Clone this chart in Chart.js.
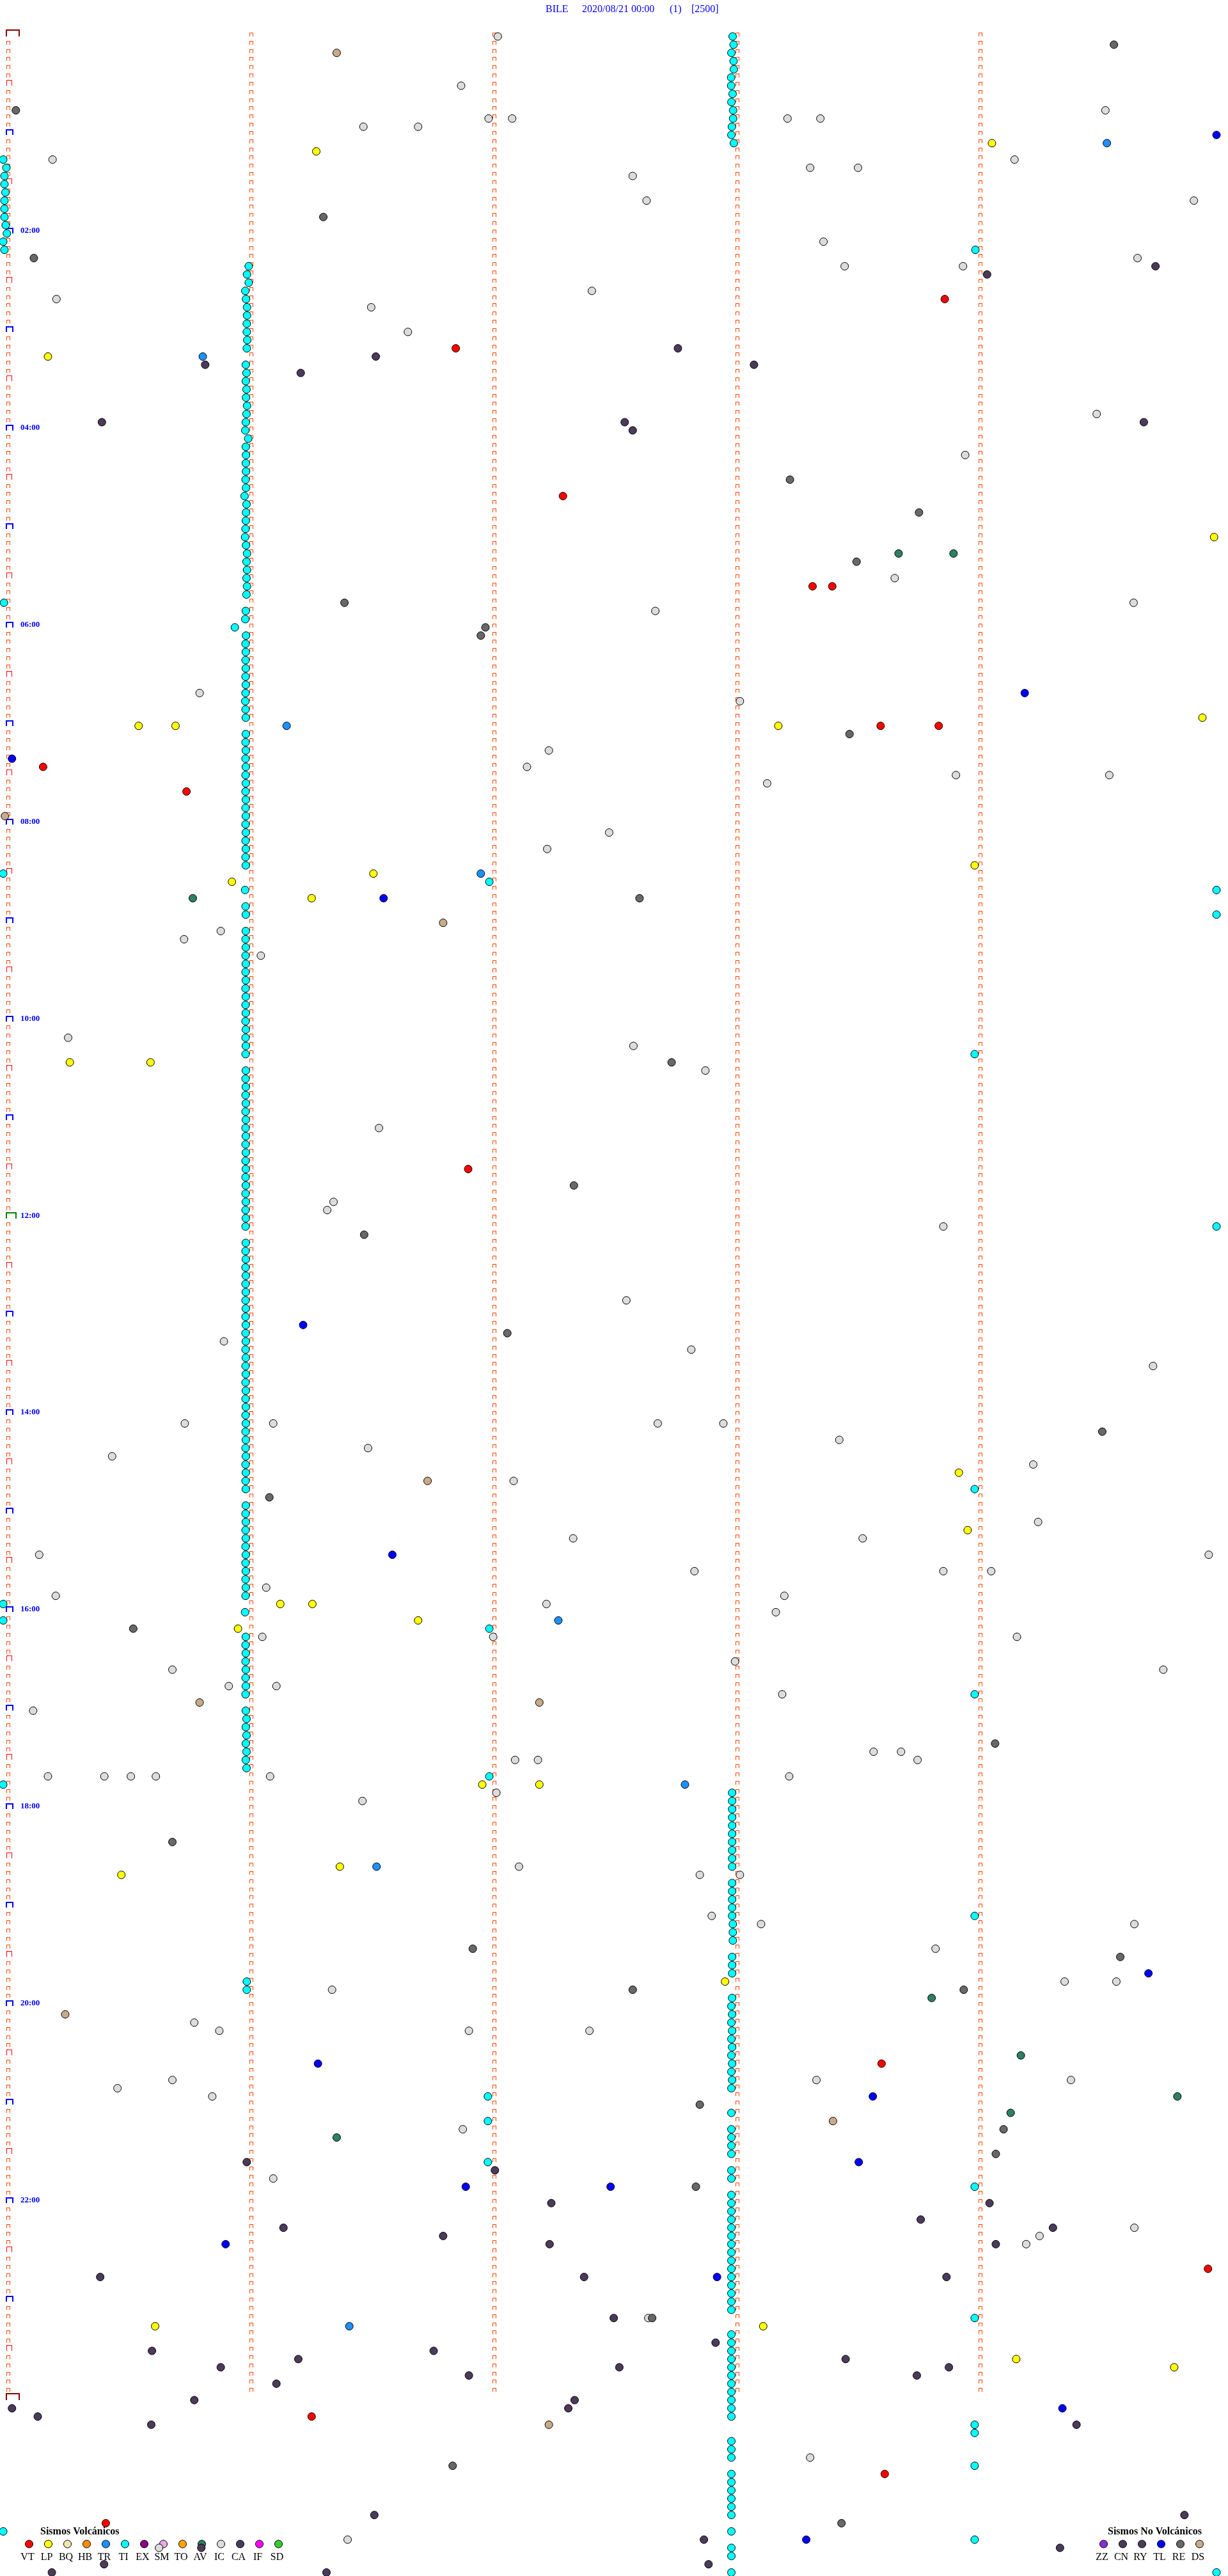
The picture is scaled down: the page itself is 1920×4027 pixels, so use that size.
<!DOCTYPE html>
<html>
<head>
<meta charset="utf-8">
<title>BILE 2020/08/21</title>
<script src="https://cdn.jsdelivr.net/npm/chart.js@4.4.0/dist/chart.umd.min.js"></script>
<style>
  html, body { margin: 0; padding: 0; background: #fff; }
  canvas { display: block; }
</style>
</head>
<body>
<canvas id="drum" width="1920" height="4027"></canvas>
<script>
// Drum record BILE 2020/08/21: one trace line = 5 minutes, 288 lines per day.
// Every event is [line, minute into the line].
const titleParts = ["BILE", "2020/08/21 00:00", "(1)", "[2500]"];
const hourLabels = ["02:00", "04:00", "06:00", "08:00", "10:00", "12:00", "14:00", "16:00", "18:00", "20:00", "22:00"];

const volcanicCodes = ["VT", "LP", "BQ", "HB", "TR", "TI", "EX", "SM", "TO", "AV", "IC", "CA", "IF", "SD"];
const volcanicColors = ["#ff0000", "#ffff00", "#eee8aa", "#ff8c00", "#1e90ff", "#00ffff", "#8b008b", "#e8a8e8", "#ffa500", "#2e8060", "#dcdcdc", "#4b3a5a", "#ff00ff", "#32cd32"];
const tectonicCodes = ["ZZ", "CN", "RY", "TL", "RE", "DS"];
const tectonicColors = ["#8a2be2", "#4b3a5a", "#4b3a5a", "#0000ff", "#686868", "#c8aa88"];

const vtEvents = [[32, 3.861], [38, 1.849], [56, 2.29], [67, 3.317], [67, 3.398], [84, 3.597], [84, 3.836], [89, 0.151],
  [92, 0.741], [138, 1.9], [247, 3.601], [272, 4.944], [290, 1.256], [297, 3.614], [303, 0.409]];

const lpEvents = [[13, 4.055], [14, 1.275], [39, 0.171], [61, 4.969], [83, 4.921], [84, 0.544], [84, 0.696], [84, 3.176],
  [101, 3.984], [102, 1.51], [103, 0.928], [105, 1.256], [125, 0.261], [125, 0.593], [175, 3.919], [182, 3.955],
  [191, 1.127], [191, 1.259], [193, 1.694], [194, 0.953], [213, 1.958], [213, 2.193], [223, 1.372], [224, 0.473],
  [237, 2.957], [279, 0.612], [279, 3.114], [283, 4.155], [284, 4.805]];

const trEvents = [[13, 4.528], [39, 0.808], [84, 1.153], [102, 1.952], [193, 2.271], [213, 2.792], [223, 1.523], [279, 1.411]];

const tiEvents = [
  // start of line
  [15, -0.013], [16, 0.0], [17, -0.008], [18, -0.008], [19, -0.004], [20, -0.008], [21, -0.008], [22, -0.008],
  [23, -0.003], [24, 0.002], [25, -0.013], [26, -0.008], [69, -0.01], [102, -0.013], [191, -0.013], [193, -0.013],
  [213, -0.013], [304, -0.013],
  // first minute mark
  [28, 0.997], [29, 0.99], [30, 0.997], [31, 0.983], [32, 0.986], [33, 0.99], [34, 0.99], [35, 0.989], [36, 0.989],
  [37, 0.991], [38, 0.989],
  [40, 0.985], [41, 0.988], [42, 0.985], [43, 0.988], [44, 0.986], [45, 0.99], [46, 0.988], [47, 0.985], [48, 0.983],
  [49, 0.995], [50, 0.985], [51, 0.986], [52, 0.985], [53, 0.986], [54, 0.984], [55, 0.986], [56, 0.98], [57, 0.988],
  [58, 0.986], [59, 0.985], [60, 0.984], [61, 0.982], [62, 0.986], [63, 0.99], [64, 0.988], [65, 0.99], [66, 0.988],
  [67, 0.99], [68, 0.988],
  [70, 0.985], [71, 0.983], [72, 0.94], [73, 0.986], [74, 0.984], [75, 0.985], [76, 0.984], [77, 0.985], [78, 0.984],
  [79, 0.985], [80, 0.984], [81, 0.983], [82, 0.984], [83, 0.985],
  [85, 0.985], [86, 0.984], [87, 0.985], [88, 0.984], [89, 0.985], [90, 0.984], [91, 0.985], [92, 0.984], [93, 0.985],
  [94, 0.984], [95, 0.985], [96, 0.984], [97, 0.985], [98, 0.984], [99, 0.985], [100, 0.984], [101, 0.985],
  [104, 0.982], [106, 0.984], [107, 0.985],
  [109, 0.985], [110, 0.984], [111, 0.985], [112, 0.984], [113, 0.985], [114, 0.984], [115, 0.985], [116, 0.984],
  [117, 0.985], [118, 0.984], [119, 0.985], [120, 0.984], [121, 0.985], [122, 0.984], [123, 0.985], [124, 0.984],
  [126, 0.985], [127, 0.984], [128, 0.985], [129, 0.984], [130, 0.985], [131, 0.984], [132, 0.985], [133, 0.984],
  [134, 0.985], [135, 0.984], [136, 0.985], [137, 0.984], [138, 0.985], [139, 0.984], [140, 0.985], [141, 0.984],
  [142, 0.985], [143, 0.984], [144, 0.985], [145, 0.984],
  [147, 0.985], [148, 0.984], [149, 0.985], [150, 0.984], [151, 0.985], [152, 0.984], [153, 0.985], [154, 0.984],
  [155, 0.985], [156, 0.984], [157, 0.985], [158, 0.984], [159, 0.985], [160, 0.984], [161, 0.985], [162, 0.984],
  [163, 0.985], [164, 0.984], [165, 0.985], [166, 0.984], [167, 0.985], [168, 0.984], [169, 0.985], [170, 0.984],
  [171, 0.985], [172, 0.984], [173, 0.985], [174, 0.984], [175, 0.985], [176, 0.984], [177, 0.985],
  [179, 0.985], [180, 0.984], [181, 0.985], [182, 0.984], [183, 0.985], [184, 0.984], [185, 0.985], [186, 0.984],
  [187, 0.985], [188, 0.984], [189, 0.985], [190, 0.984], [192, 0.982],
  [195, 0.985], [196, 0.984], [197, 0.985], [198, 0.984], [199, 0.985], [200, 0.984], [201, 0.985], [202, 0.984],
  [204, 0.985], [205, 0.988], [206, 0.985], [207, 0.988], [208, 0.985], [209, 0.988], [210, 0.985], [211, 0.988],
  [237, 0.989], [238, 0.989],
  // second minute mark
  [103, 1.987], [194, 1.987], [212, 1.987], [251, 1.981], [254, 1.981], [259, 1.981],
  // third minute mark
  [0, 2.988], [1, 2.992], [2, 2.983], [3, 2.992], [4, 2.993], [5, 2.982], [6, 2.982], [7, 2.988], [8, 2.983],
  [9, 2.99], [10, 2.99], [11, 2.985], [12, 2.983], [13, 2.993],
  [214, 2.986], [215, 2.986], [216, 2.986], [217, 2.986], [218, 2.986], [219, 2.986], [220, 2.986], [221, 2.986],
  [222, 2.986], [223, 2.986], [225, 2.986], [226, 2.986], [227, 2.986], [228, 2.986], [229, 2.986],
  [230, 2.989], [231, 2.989], [232, 2.989], [234, 2.986], [235, 2.986], [236, 2.986],
  [239, 2.986], [240, 2.983], [241, 2.986], [242, 2.983], [243, 2.986], [244, 2.983], [245, 2.986], [246, 2.983],
  [247, 2.986], [248, 2.983], [249, 2.986], [250, 2.983], [253, 2.983],
  [255, 2.983], [256, 2.983], [257, 2.983], [258, 2.983], [260, 2.983], [261, 2.983],
  [263, 2.983], [264, 2.983], [265, 2.983], [266, 2.983], [267, 2.983], [268, 2.983], [269, 2.983], [270, 2.983],
  [271, 2.983], [272, 2.983], [273, 2.983], [274, 2.983], [275, 2.983], [276, 2.983], [277, 2.983],
  [280, 2.983], [281, 2.983], [282, 2.983], [283, 2.983], [284, 2.983], [285, 2.983], [286, 2.983], [287, 2.983],
  [288, 2.983], [289, 2.983], [290, 2.983],
  [293, 2.983], [294, 2.983], [295, 2.983], [297, 2.983], [298, 2.983], [299, 2.983], [300, 2.983], [301, 2.983],
  [302, 2.983], [304, 2.983], [306, 2.983], [307, 2.983], [309, 2.983],
  // fourth minute mark
  [26, 3.987], [124, 3.984], [177, 3.984], [202, 3.984], [229, 3.984], [262, 3.984], [278, 3.984], [291, 3.984],
  [292, 3.984], [296, 3.984], [305, 3.984],
  // end of line
  [104, 4.979], [107, 4.979], [145, 4.979], [309, 4.979]
];

const avEvents = [[63, 3.671], [63, 3.897], [105, 0.767], [239, 3.807], [246, 4.174], [251, 4.818], [253, 4.132], [256, 1.359]];

const icEvents = [[0, 2.022], [6, 1.871], [9, 4.522], [10, 1.984], [10, 2.081], [10, 3.214], [10, 3.349], [11, 1.469],
  [11, 1.694], [15, 0.19], [15, 4.148], [16, 3.307], [16, 3.504], [17, 2.577], [20, 2.634], [20, 4.886], [25, 3.362],
  [27, 4.654], [28, 3.449], [28, 3.936], [31, 2.409], [32, 0.206], [33, 1.501], [36, 1.652], [46, 4.486], [51, 3.945],
  [66, 3.655], [69, 4.638], [70, 2.67], [80, 0.795], [81, 3.018], [87, 2.232], [89, 2.142], [90, 3.907], [90, 4.538],
  [91, 3.13], [97, 2.48], [99, 2.225], [109, 0.882], [110, 0.731], [112, 1.047], [122, 0.254], [123, 2.58],
  [126, 2.876], [133, 1.533], [142, 1.346], [143, 1.32], [145, 3.855], [154, 2.551], [159, 0.895], [160, 2.818],
  [162, 4.718], [169, 0.734], [169, 1.098], [169, 2.68], [169, 2.95], [171, 3.427], [172, 1.488], [173, 0.435],
  [174, 4.225], [176, 2.087], [181, 4.245], [183, 2.332], [183, 3.523], [185, 0.135], [185, 4.947], [187, 2.831],
  [187, 3.855], [187, 4.052], [189, 1.069], [190, 0.203], [190, 3.201], [191, 2.222], [192, 3.166], [195, 1.053],
  [195, 2.003], [195, 4.158], [198, 2.998], [199, 0.683], [199, 4.76], [201, 0.915], [201, 1.111], [202, 3.192],
  [204, 0.11], [209, 3.568], [209, 3.681], [210, 2.093], [210, 2.187], [210, 3.749], [212, 0.171], [212, 0.403],
  [212, 0.512], [212, 0.615], [212, 1.085], [212, 3.221], [214, 2.016], [215, 1.465], [223, 2.109], [224, 2.853],
  [224, 3.018], [229, 2.902], [230, 3.105], [230, 4.641], [233, 3.823], [237, 4.354], [237, 4.567], [238, 1.34],
  [242, 0.773], [243, 0.876], [243, 1.903], [243, 2.399], [249, 0.683], [249, 3.333], [249, 4.38], [250, 0.457],
  [251, 0.847], [255, 1.878], [261, 1.098], [267, 4.641], [268, 4.251], [269, 4.196], [278, 2.641], [295, 3.307],
  [305, 1.404], [306, 0.628]];

const caEvents = [[28, 4.728], [29, 4.035], [38, 2.763], [39, 1.52], [40, 0.818], [40, 3.076], [41, 1.211], [47, 0.393],
  [47, 2.544], [47, 4.68], [48, 2.577], [259, 0.989], [260, 2.01], [264, 2.242], [264, 4.045], [266, 3.762],
  [267, 1.14], [267, 4.306], [268, 1.797], [269, 2.235], [269, 4.071], [273, 0.386], [273, 2.377], [273, 3.868],
  [278, 2.499], [281, 2.918], [282, 0.599], [282, 1.758], [283, 1.201], [283, 3.453], [284, 0.882], [284, 2.522],
  [284, 3.878], [285, 1.903], [285, 3.746], [286, 1.111], [288, 0.773], [288, 2.338], [289, 0.023], [289, 2.312],
  [290, 0.129], [291, 0.596], [291, 4.403], [302, 1.514], [302, 4.847], [305, 2.87], [306, 0.802], [306, 4.335],
  [308, 0.402], [308, 2.889], [309, 0.187], [309, 1.317]];

const tlEvents = [[12, 4.979], [80, 4.19], [88, 0.023], [105, 1.552], [157, 1.221], [185, 1.588], [236, 4.699],
  [247, 1.282], [251, 3.565], [259, 3.507], [262, 1.89], [262, 2.486], [269, 0.902], [273, 2.924], [289, 4.345],
  [305, 3.291]];

const reEvents = [[1, 4.557], [9, 0.039], [22, 1.304], [27, 0.113], [54, 3.224], [58, 3.755], [64, 3.498], [69, 1.391],
  [72, 1.971], [73, 1.952], [85, 3.469], [105, 2.605], [125, 2.737], [140, 2.335], [146, 1.472], [158, 2.061],
  [170, 4.509], [178, 1.082], [194, 0.522], [208, 4.068], [220, 0.683], [233, 1.919], [234, 4.583], [238, 2.577],
  [238, 3.939], [252, 2.853], [255, 4.103], [258, 4.071], [262, 2.837], [278, 2.657], [296, 1.836], [303, 3.436]];

const dsEvents = [[2, 1.359], [95, -0.006], [108, 1.797], [176, 1.733], [203, 0.795], [203, 2.193], [241, 0.242],
  [254, 3.401], [291, 2.232]];

const minutesPerLine = 5;
const linesPerDay = 288;

// first dataset is painted last (on top)
const series = [
  { code: "RE", color: tectonicColors[4], events: reEvents },
  { code: "VT", color: volcanicColors[0], events: vtEvents },
  { code: "LP", color: volcanicColors[1], events: lpEvents },
  { code: "TR", color: volcanicColors[4], events: trEvents },
  { code: "AV", color: volcanicColors[9], events: avEvents },
  { code: "CA", color: volcanicColors[11], events: caEvents },
  { code: "TL", color: tectonicColors[3], events: tlEvents },
  { code: "DS", color: tectonicColors[5], events: dsEvents },
  { code: "IC", color: volcanicColors[10], events: icEvents },
  { code: "TI", color: volcanicColors[5], events: tiEvents }
];

const SERIF = '"Liberation Serif", "Times New Roman", serif';

function bracket(ctx, left, base, w, h, t, color) {
  ctx.fillStyle = color;
  ctx.fillRect(left, base - h, w, t);
  ctx.fillRect(left, base - h, t, h);
  ctx.fillRect(left + w - t, base - h, t, h);
}

// minute marks of every line, with half-hour / hour / noon / day marks at the start
const drumTicks = {
  id: "drumTicks",
  beforeDatasetsDraw(chart) {
    const { ctx, scales: { x, y } } = chart;
    ctx.save();
    for (let line = 0; line <= linesPerDay; line++) {
      const base = Math.round(y.getPixelForValue(line));
      const left = Math.round(x.getPixelForValue(0));
      if (line % linesPerDay === 0) bracket(ctx, left - 1, base, 22, 11, 2, "#8b0000");
      else if (line === linesPerDay / 2) bracket(ctx, left - 1, base, 17, 10, 2, "#008000");
      else if (line % 12 === 0) bracket(ctx, left - 1, base, 12, 9, 2, "#0000ff");
      else if (line % 6 === 0) bracket(ctx, left, base, 9, 9, 1, "#ff0000");
      else bracket(ctx, left, base, 6, 6, 1, "#ff4500");
      if (line === linesPerDay) continue;
      for (let m = 1; m < minutesPerLine; m++) {
        bracket(ctx, Math.round(x.getPixelForValue(m)), base, 6, 6, 1, "#ff4500");
      }
    }

    ctx.fillStyle = "#0000ff";
    ctx.font = "bold 13px " + SERIF;
    ctx.textBaseline = "alphabetic";
    hourLabels.forEach((label) => {
      const line = parseInt(label, 10) * 12;
      ctx.fillText(label, x.getPixelForValue(0) + 22, Math.round(y.getPixelForValue(line)) - 1);
    });

    // title
    ctx.font = "16px " + SERIF;
    const titleX = [853, 910, 1047, 1081];
    titleParts.forEach((part, i) => ctx.fillText(part, titleX[i], 19));

    // legends
    ctx.fillStyle = "#000";
    ctx.font = "bold 16px " + SERIF;
    ctx.fillText("Sismos Volcánicos", 63, 3962);
    ctx.fillText("Sismos No Volcánicos", 1732, 3962);
    const drawKey = (codes, colors, x0) => {
      codes.forEach((code, i) => {
        const cx = x0 + 30 * i;
        ctx.beginPath();
        ctx.arc(cx, 3977, 6, 0, Math.PI * 2);
        ctx.fillStyle = colors[i];
        ctx.fill();
        ctx.lineWidth = 1;
        ctx.strokeStyle = "#000";
        ctx.stroke();
        ctx.fillStyle = "#000";
        ctx.font = "16px " + SERIF;
        ctx.textAlign = "center";
        ctx.fillText(code, cx - 2.5, 4002);
        ctx.textAlign = "left";
      });
    };
    drawKey(volcanicCodes, volcanicColors, 45.5);
    drawKey(tectonicCodes, tectonicColors, 1725.5);
    ctx.restore();
  }
};

new Chart(document.getElementById("drum"), {
  type: "scatter",
  data: {
    datasets: series.map((s) => ({
      label: s.code,
      data: s.events.map(([line, minute]) => ({ x: minute, y: line })),
      pointBackgroundColor: s.color,
      pointBorderColor: "#000",
      pointBorderWidth: 1,
      pointRadius: 6,
      pointHoverRadius: 6,
      showLine: false,
      clip: false
    }))
  },
  options: {
    responsive: false,
    devicePixelRatio: 1,
    animation: false,
    events: [],
    // no automatic padding for the point radius: the plot must fill the canvas
    layout: { autoPadding: false, padding: 0 },
    plugins: { legend: { display: false }, title: { display: false }, tooltip: { enabled: false } },
    scales: {
      x: { type: "linear", min: -10 / 380, max: 1910 / 380, display: false },
      y: { type: "linear", reverse: true, min: -57 / 12.83, max: 3970 / 12.83, display: false }
    }
  },
  plugins: [drumTicks]
});
</script>
</body>
</html>
